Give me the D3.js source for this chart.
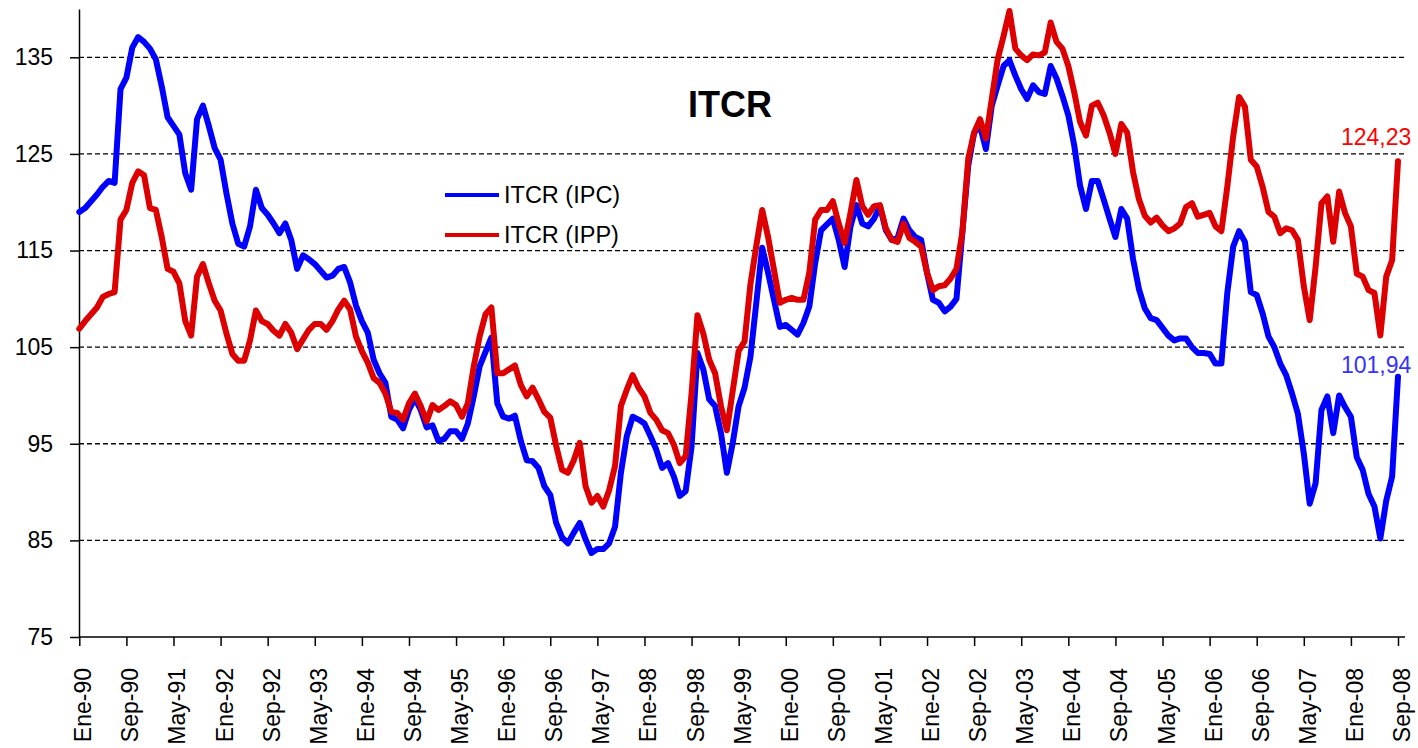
<!DOCTYPE html>
<html>
<head>
<meta charset="utf-8">
<script src="https://cdn.jsdelivr.net/npm/d3@7"></script>
<style>
  body { margin: 0; background: #fff; }
  text { font-family: Arial, "Liberation Sans", sans-serif; }
</style>
</head>
<body>
<div id="CHARTviz"></div>
<script>
// month names used for the category labels
var monthNames = ["Ene","Feb","Mar","Abr","May","Jun","Jul","Ago","Sep","Oct","Nov","Dic"];
var firstYear = 1990;
var nMonths = 225; // Ene-90 .. Sep-08

// ITCR (IPC), one value per month
var itcrIPC = [
  119.0,119.4,120.1,120.8,121.6,122.2,122.0,131.7,132.9,136.0,137.1,136.6,
  135.9,134.8,132.0,128.8,127.9,127.0,123.0,121.3,128.6,130.0,127.9,125.6,
  124.4,120.9,117.8,115.7,115.4,117.5,121.3,119.4,118.7,117.8,116.8,117.8,
  116.1,113.1,114.5,114.1,113.6,112.9,112.2,112.4,113.1,113.3,111.7,109.3,
  107.7,106.5,103.7,102.3,101.3,97.8,97.5,96.6,98.5,99.7,98.5,96.7,
  96.9,95.3,95.5,96.3,96.3,95.5,97.1,99.9,103.0,104.5,106.0,99.2,
  97.8,97.6,97.9,95.3,93.3,93.2,92.5,90.6,89.7,86.8,85.3,84.7,
  85.8,86.8,85.1,83.7,84.1,84.1,84.7,86.4,92.0,95.8,97.8,97.5,
  97.1,95.8,94.4,92.5,93.0,91.6,89.6,90.1,94.7,104.4,102.7,99.6,
  98.9,96.1,92.0,95.1,98.9,100.8,104.0,109.6,115.3,112.7,109.9,107.1,
  107.3,106.8,106.3,107.5,109.2,113.7,117.1,117.7,118.3,116.1,113.3,117.5,
  119.7,117.8,117.5,118.3,119.6,117.1,116.1,116.3,118.3,117.1,116.4,116.1,
  112.7,109.9,109.6,108.7,109.2,110.0,116.9,123.8,127.2,127.9,125.5,130.0,
  132.1,134.1,134.7,133.1,131.7,130.7,132.1,131.4,131.2,134.1,132.8,131.0,
  129.0,125.9,121.7,119.3,122.2,122.2,120.3,118.3,116.4,119.3,118.3,114.1,
  111.0,109.0,108.0,107.8,107.0,106.2,105.7,105.9,105.9,105.0,104.4,104.4,
  104.3,103.3,103.3,110.6,115.4,117.0,115.9,110.7,110.4,108.5,106.1,105.0,
  103.3,102.1,100.2,98.1,94.0,88.8,90.9,98.5,99.9,96.1,100.0,98.8,
  97.8,93.6,92.3,89.8,88.5,85.2,89.1,91.6,101.94
];

// ITCR (IPP), one value per month
var itcrIPP = [
  106.9,107.7,108.4,109.1,110.2,110.5,110.7,118.2,119.2,122.0,123.2,122.8,
  119.4,119.2,116.4,113.1,112.8,111.6,107.7,106.2,112.3,113.6,111.6,109.8,
  108.8,106.4,104.3,103.6,103.6,105.7,108.8,107.7,107.4,106.7,106.2,107.4,
  106.5,104.8,105.8,106.8,107.4,107.4,106.8,107.7,108.9,109.8,108.9,106.1,
  104.6,103.4,101.8,101.3,100.2,98.3,98.2,97.5,99.2,100.2,98.9,97.3,
  99.0,98.5,98.9,99.4,99.0,97.8,99.2,103.0,106.1,108.4,109.1,102.3,
  102.3,102.7,103.1,101.1,99.9,100.8,99.6,98.3,97.7,94.8,92.3,92.0,
  93.3,95.1,90.6,88.9,89.6,88.5,90.2,92.7,98.9,100.6,102.1,100.8,
  99.9,98.2,97.5,96.4,96.1,94.9,93.0,93.7,100.2,108.3,106.4,103.7,
  102.3,98.9,96.4,100.5,104.6,105.6,111.5,115.5,119.2,116.4,113.0,109.6,
  109.9,110.1,109.9,109.9,112.7,118.2,119.2,119.2,120.1,117.8,115.8,118.9,
  122.3,119.6,118.7,119.6,119.7,117.3,116.1,115.9,117.8,116.3,115.9,115.4,
  112.7,110.9,111.3,111.4,112.1,113.1,116.9,124.5,127.2,128.6,126.6,130.7,
  134.8,137.2,139.8,135.9,135.2,134.7,135.3,135.2,135.5,138.6,136.6,135.9,
  134.1,131.4,128.3,126.9,130.0,130.3,129.0,127.2,125.0,128.1,127.2,123.1,
  120.3,118.6,117.9,118.4,117.6,117.0,117.3,117.8,119.5,119.9,118.5,118.7,
  118.9,117.5,117.0,121.6,126.8,130.9,129.9,124.4,123.7,121.6,119.0,118.5,
  116.8,117.3,117.1,116.1,111.3,107.8,113.3,119.9,120.6,115.9,121.1,118.9,
  117.5,112.6,112.3,110.9,110.6,106.2,112.3,114.0,124.23
];

var yTicks = [75, 85, 95, 105, 115, 125, 135];
var gridValues = [85, 95, 105, 115, 125, 135];
var seriesNames = ["ITCR (IPC)", "ITCR (IPP)"];
var seriesColors = ["#0000ff", "#dd0000"];
var chartTitle = "ITCR";

// build category labels like "Ene-90"
var months = [];
for (var i = 0; i < nMonths; i++) {
    var yr = firstYear + Math.floor(i / 12);
    months.push(monthNames[i % 12] + "-" + String(yr).slice(2));
}
var tickLabels = months.filter(function(d, i) { return i % 8 === 0; });

var W = 1418, H = 748;
var svg = d3.select("#CHARTviz")
    .append("svg")
    .attr("width", W)
    .attr("height", H);

// scales
var x = d3.scalePoint()
    .domain(months)
    .range([79.3, 1398]);

var y = d3.scaleLinear()
    .domain([75, 140])
    .range([637, 9]);

// dashed horizontal gridlines
svg.append("g")
    .selectAll("line")
    .data(gridValues)
    .enter()
    .append("line")
    .attr("x1", 79)
    .attr("x2", 1405)
    .attr("y1", function(d) { return y(d); })
    .attr("y2", function(d) { return y(d); })
    .attr("stroke", "#000")
    .attr("stroke-width", 1.3)
    .attr("stroke-dasharray", "5,3");

// Y axis
var YAXIS = svg.append("g")
    .attr("transform", "translate(79,0)")
    .call(d3.axisLeft(y).tickValues(yTicks).tickSize(9).tickSizeOuter(0).tickPadding(17));
YAXIS.selectAll("text").style("font-size", "23px").attr("fill", "#000");

// X axis
var XAXIS = svg.append("g")
    .attr("transform", "translate(0,637)")
    .call(d3.axisBottom(x).tickValues(tickLabels).tickSize(9).tickSizeOuter(0));
XAXIS.select(".domain").attr("d", "M79,0H1405");
XAXIS.selectAll("text")
    .style("font-size", "23px")
    .attr("fill", "#000")
    .attr("text-anchor", "end")
    .attr("transform", "rotate(-90)")
    .attr("x", -31)
    .attr("y", 0)
    .attr("dy", "0.5em");

svg.selectAll(".domain, .tick line").attr("stroke", "#000").attr("stroke-width", 1.5);

// lines
var line = d3.line()
    .x(function(d, i) { return x(months[i]); })
    .y(function(d) { return y(d); })
    .curve(d3.curveLinear);

[itcrIPC, itcrIPP].forEach(function(s, k) {
    svg.append("path")
        .datum(s)
        .attr("fill", "none")
        .attr("stroke", seriesColors[k])
        .attr("stroke-width", 6)
        .attr("stroke-linejoin", "round")
        .attr("stroke-linecap", "round")
        .attr("d", line);
});

// last value labels
var last = months[nMonths - 1];
svg.append("text")
    .attr("x", x(last) - 57)
    .attr("y", y(itcrIPP[nMonths - 1]) - 16)
    .attr("fill", "#ff0000")
    .style("font-size", "23px")
    .text(d3.format(".2f")(itcrIPP[nMonths - 1]).replace(".", ","));
svg.append("text")
    .attr("x", x(last) - 57)
    .attr("y", y(itcrIPC[nMonths - 1]) - 4)
    .attr("fill", "#3333ff")
    .style("font-size", "23px")
    .text(d3.format(".2f")(itcrIPC[nMonths - 1]).replace(".", ","));

// title
svg.append("text")
    .attr("x", 730)
    .attr("y", 117)
    .attr("text-anchor", "middle")
    .style("font-size", "36px")
    .style("font-weight", "bold")
    .text(chartTitle);

// legend
var legend = svg.append("g").attr("transform", "translate(445,195)");
seriesNames.forEach(function(name, k) {
    legend.append("line")
        .attr("x1", 0).attr("x2", 54)
        .attr("y1", k * 40).attr("y2", k * 40)
        .attr("stroke", seriesColors[k])
        .attr("stroke-width", 4);
    legend.append("text")
        .attr("x", 59)
        .attr("y", k * 40 + 8)
        .style("font-size", "23.5px")
        .attr("fill", "#000")
        .text(name);
});
</script>
</body>
</html>
